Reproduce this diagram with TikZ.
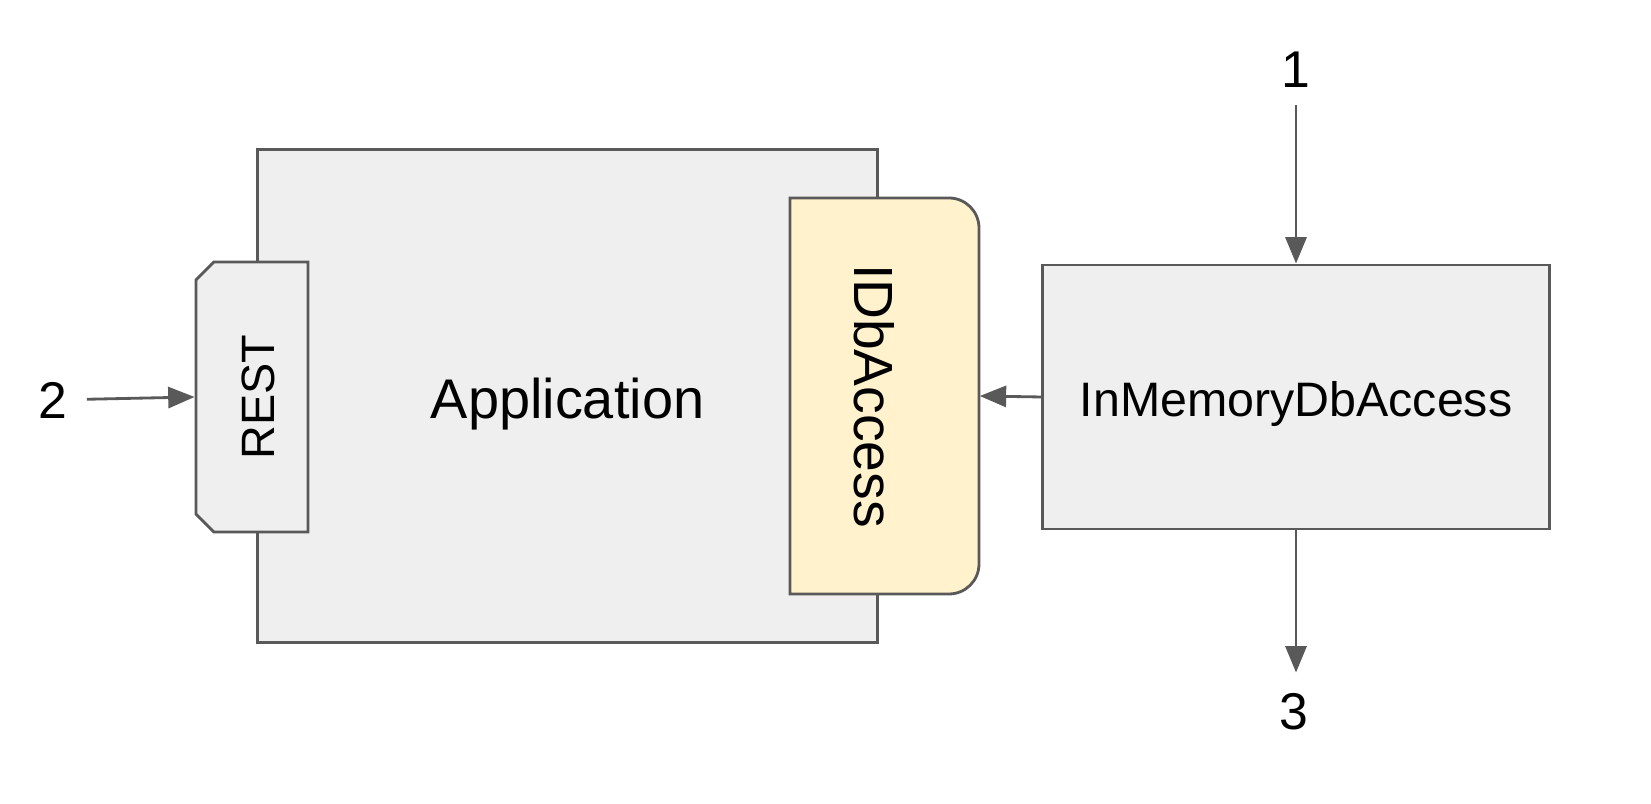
\documentclass[tikz,border=0pt]{standalone}
\usepackage{fontspec}
\setmainfont{Liberation Sans}
\usepackage{tikz}
\usetikzlibrary{arrows.meta,shapes.misc}
\definecolor{edgegray}{HTML}{595959}
\definecolor{boxgray}{HTML}{EFEFEF}
\definecolor{dbyellow}{HTML}{FFF2CC}
\tikzset{
    box/.style={draw=edgegray,fill=boxgray,line width=0.8pt,inner sep=0pt},
    dbshape/.style={draw=edgegray,fill=dbyellow,line width=0.8pt},
    num/.style={font=\fontsize{14.7}{16}\selectfont},
    link/.style={draw=edgegray,line width=0.8pt,-{Triangle[length=7.5pt,width=6pt]}}
}
\newcommand{\lowertext}[2]{\raisebox{-#1}[\height][\depth]{#2}}

\begin{document}
\begin{tikzpicture}[x=0.01cm,y=-0.01cm]
        \useasboundingbox (0,0) rectangle (1651,804);
        \node[box,minimum width=6.19cm,minimum height=4.92cm,font=\fontsize{15.9}{18}\selectfont] (app) at (567.5,396) {\lowertext{2.3pt}{Application}};
        \node[box,chamfered rectangle,chamfered rectangle corners={north west,south west},chamfered rectangle xsep=0.09cm,chamfered rectangle ysep=0.09cm,minimum width=1.12cm,minimum height=2.70cm,font=\fontsize{13.3}{15}\selectfont] (rest) at (252,397) {\rotatebox{90}{\lowertext{1.8pt}{REST}}};
        \draw[dbshape] (790,594) -- (790,198) -- (880,198) [rounded corners=0.3cm] -- (979,198) -- (979,594) -- (880,594) [sharp corners] -- (790,594) -- cycle;
        \node[minimum width=1.89cm,minimum height=3.96cm,inner sep=0pt,font=\fontsize{15.7}{18}\selectfont] (idb) at (884.5,396) {\rotatebox{-90}{\lowertext{2.8pt}{IDbAccess}}};
        \node[box,minimum width=5.06cm,minimum height=2.64cm,font=\fontsize{13.75}{16}\selectfont] (mem) at (1296,397) {\lowertext{2.1pt}{InMemoryDbAccess}};
        \node[num] (n1) at (1296,70) {1};
        \node[num] (n2) at (53,400) {2};
        \node[num] (n3) at (1294,712) {3};
        \draw[link,shorten <=1.5pt] (n1) -- (mem.north);
        \draw[link,shorten >=2.5pt] (mem.south) -- (mem.south |- n3.north);
        \draw[link,shorten <=2pt] (n2) -- (rest.west);
        \draw[link] (mem.west) -- (idb.east);
    \end{tikzpicture}
\end{document}
